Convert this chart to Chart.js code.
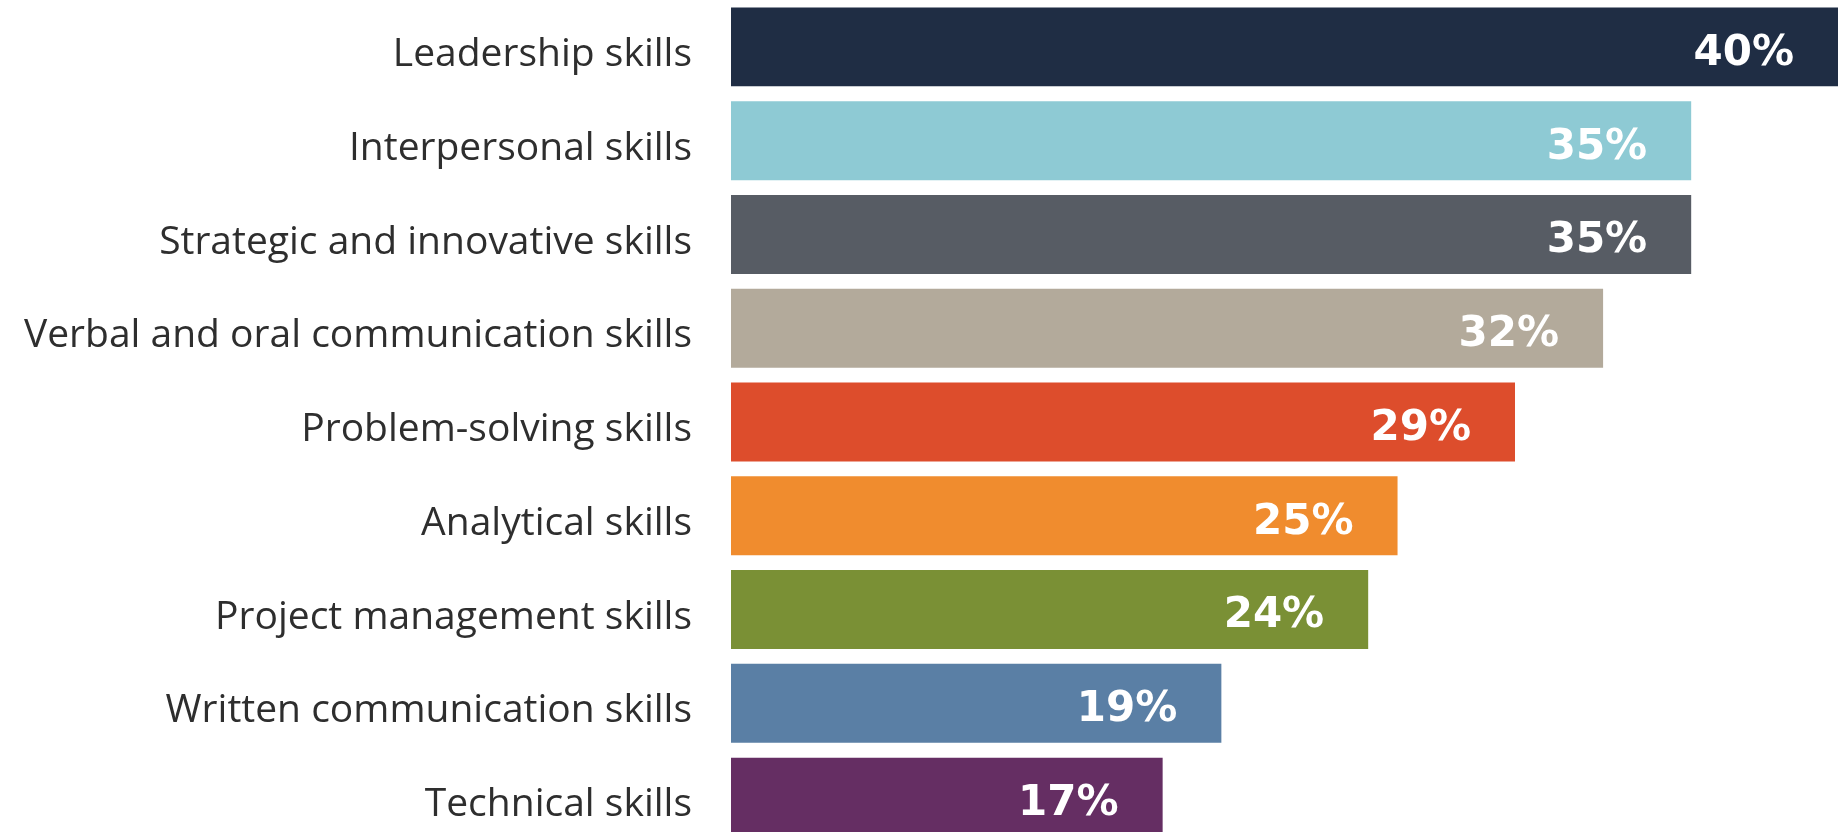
<!DOCTYPE html>
<html>
<head>
<meta charset="utf-8">
<script src="https://cdn.jsdelivr.net/npm/chart.js@4/dist/chart.umd.min.js"></script>
<style>
  html, body { margin: 0; padding: 0; background: #fff; overflow: hidden; }
  #wrap { position: absolute; left: 0; top: 0; width: 1838px; height: 844px; }
</style>
</head>
<body>
<div id="wrap"><canvas id="grafica"></canvas></div>
<script>
// habilidades y porcentajes
const habilidades = [
  'Leadership skills',
  'Interpersonal skills',
  'Strategic and innovative skills',
  'Verbal and oral communication skills',
  'Problem-solving skills',
  'Analytical skills',
  'Project management skills',
  'Written communication skills',
  'Technical skills'
];
const porcentajes = [40, 35, 35, 32, 29, 25, 24, 19, 17];
const colores = ['#1f2d44', '#8ecad4', '#575c64', '#b3aa9b', '#dd4d2c', '#f08c2e', '#7a9035', '#5a7fa5', '#652e63'];

// nombres a la izquierda y porcentaje en blanco dentro de cada barra
const etiquetas = {
  id: 'etiquetas',
  afterDatasetsDraw(chart) {
    const ctx = chart.ctx;
    const meta = chart.getDatasetMeta(0);
    const izq = chart.chartArea.left;
    ctx.save();
    ctx.textAlign = 'right';
    ctx.textBaseline = 'middle';
    meta.data.forEach((bar, i) => {
      ctx.fillStyle = '#2e2e2e';
      ctx.font = '39px "Open Sans"';
      ctx.fillText(habilidades[i], izq - 39, bar.y + 8);

      ctx.fillStyle = '#ffffff';
      ctx.font = 'bold 42px "DejaVu Sans"';
      const x = Math.min(bar.x, chart.chartArea.right);
      ctx.fillText(porcentajes[i] + '%', x - 44, bar.y + 7);
    });
    ctx.restore();
  }
};

new Chart(document.getElementById('grafica'), {
  type: 'bar',
  data: {
    labels: habilidades,
    datasets: [{
      data: porcentajes,
      backgroundColor: colores,
      borderWidth: 0,
      categoryPercentage: 1,
      barPercentage: 0.842
    }]
  },
  options: {
    indexAxis: 'y',
    responsive: true,
    maintainAspectRatio: false,
    animation: false,
    layout: { padding: { left: 731, right: 0, top: 0, bottom: 0 } },
    plugins: {
      legend: { display: false },
      tooltip: { enabled: false }
    },
    scales: {
      x: { display: false, min: 2.3, max: 40 },
      y: { display: false }
    }
  },
  plugins: [etiquetas]
});
</script>
</body>
</html>
